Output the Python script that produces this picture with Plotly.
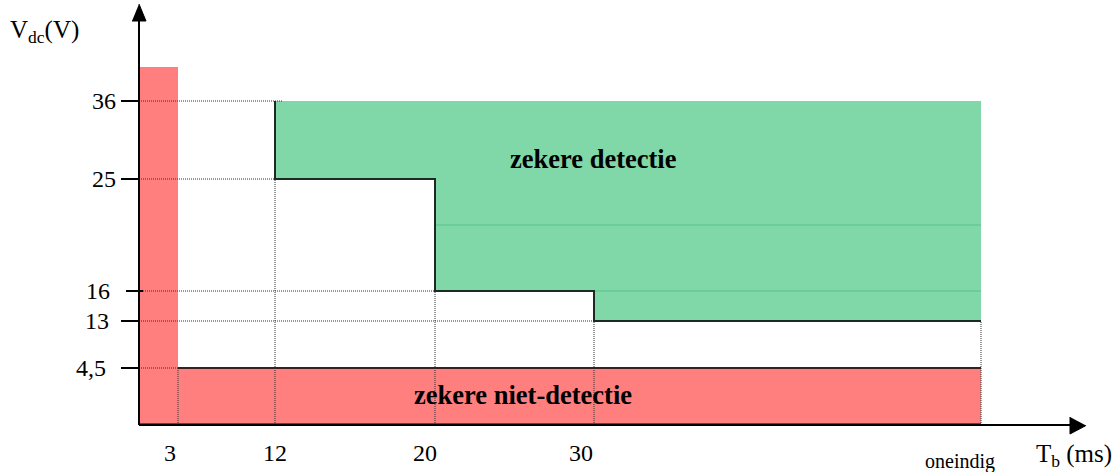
import numpy as np
import plotly.graph_objects as go

# ---------------- data ----------------
x_tick_values = [3, 12, 20, 30]           # T_b (ms)
x_tick_labels = ["3", "12", "20", "30"]
x_inf_label = "oneindig"
y_tick_values = [36, 25, 16, 13, 4.5]     # V_dc (V)
y_tick_labels = ["36", "25", "16", "13", "4,5"]

step_tb = [12, 20, 30]        # start of each detection step
step_v = [25, 16, 13]         # minimum voltage for certain detection
v_max = 36                    # upper limit of detection zone
red_tb = 3                    # below 3 ms: certain non-detection
red_v = 4.5                   # below 4.5 V: certain non-detection
red_top = 40.5                # top of the red column (drawn above 36)
INF = 100                     # stand-in value for "oneindig"

# ---------------- schematic (non-linear) scales ----------------
W, H = 1115, 472
X_KNOTS = [0, 3, 12, 20, 30, INF]
X_PIX = [139, 178, 275, 435, 594, 981]
Y_KNOTS = [0, 4.5, 13, 16, 25, 36, 40.5]
Y_PIX = [425, 368, 321, 291, 179, 101, 67]


def sx(v):
    return float(np.interp(v, X_KNOTS, X_PIX))


def sy(v):
    return H - float(np.interp(v, Y_KNOTS, Y_PIX))


def py(p):  # pixel row -> axis value
    return H - p


fig = go.Figure()

RED = "#FF7F7F"
GREEN = "#80D8A8"


def poly(xs, ys, fill, line_color=None, width=0):
    fig.add_trace(go.Scatter(x=xs, y=ys, mode="lines", fill="toself",
                             fillcolor=fill,
                             line=dict(color=line_color or fill, width=width),
                             hoverinfo="skip", showlegend=False))


def seg(xs, ys, color="black", width=1, dash=None):
    fig.add_trace(go.Scatter(x=xs, y=ys, mode="lines",
                             line=dict(color=color, width=width, dash=dash),
                             hoverinfo="skip", showlegend=False))


# green zone (certain detection)
gx = [sx(step_tb[0]), sx(INF), sx(INF)]
gy = [sy(v_max), sy(v_max), sy(step_v[-1])]
for i in range(len(step_tb) - 1, -1, -1):
    gx += [sx(step_tb[i]), sx(step_tb[i])]
    gy += [sy(step_v[i]), sy(step_v[i - 1]) if i > 0 else sy(v_max)]
poly(gx, gy, GREEN)
# faint seams inside green zone
seg([sx(step_tb[1]), sx(INF)], [py(225), py(225)], color="#56C386", width=1)
seg([sx(step_tb[1]), sx(INF)], [sy(step_v[1]), sy(step_v[1])], color="#56C386", width=1)

# red zones (certain non-detection)
poly([sx(0), sx(red_tb), sx(red_tb), sx(0)], [sy(0), sy(0), sy(red_top), sy(red_top)], RED)
poly([sx(red_tb), sx(INF), sx(INF), sx(red_tb)], [sy(0), sy(0), sy(red_v), sy(red_v)], RED)

# dotted guide lines
dot = dict(color="#333333", width=1, dash="1px,1px")
h_ends = {36: sx(12) + 8, 25: sx(12), 16: sx(20), 13: sx(30), 4.5: sx(red_tb)}
for v in y_tick_values:
    seg([sx(0), h_ends[v]], [sy(v), sy(v)], **dot)
v_starts = {3: red_v, 12: 25, 20: 16, 30: 13}
for t in x_tick_values:
    seg([sx(t), sx(t)], [sy(0), sy(v_starts[t])], **dot)
seg([sx(INF), sx(INF)], [sy(0), sy(13)], **dot)

# red outline
seg([sx(red_tb), sx(INF)], [sy(red_v), sy(red_v)], color="#3a1f1f", width=2)
seg([sx(0), sx(INF)], [sy(0) + 1, sy(0) + 1], color="#A00000", width=1.5)

# step boundary
bx = [sx(step_tb[0])]
by = [sy(v_max)]
for i in range(len(step_tb)):
    bx += [sx(step_tb[i]), sx(step_tb[i + 1]) if i + 1 < len(step_tb) else sx(INF)]
    by += [sy(step_v[i]), sy(step_v[i])]
    if i + 1 < len(step_tb):
        bx += [sx(step_tb[i + 1])]
        by += [sy(step_v[i + 1])]
seg(bx, by, color="#1b2a22", width=2)

# axes with arrows
seg([139, 139], [sy(0), py(20)], color="black", width=2)
poly([132, 146, 139], [py(21), py(21), py(4)], "black", "black", 1)
seg([139, 1071], [sy(0), sy(0)], color="black", width=2)
poly([1070, 1070, 1086], [py(417), py(434), py(425.5)], "black", "black", 1)

# y tick marks
for v in y_tick_values:
    x0 = 126 if v == 16 else 121
    x1 = 143 if v == 16 else 139
    seg([x0, x1], [sy(v), sy(v)], color="black", width=2)

FONT = "'Liberation Serif', 'DejaVu Serif', serif"
ann = []
y_right = {36: 118, 25: 118, 16: 112, 13: 111, 4.5: 108}
for v, lab in zip(y_tick_values, y_tick_labels):
    ann.append(dict(x=y_right[v], y=sy(v), text=lab, xanchor="right", yanchor="middle",
                    font=dict(size=24, family=FONT, color="black")))
x_lab_pos = {3: 170, 12: 275, 20: 425, 30: 581}
for t, lab in zip(x_tick_values, x_tick_labels):
    ann.append(dict(x=x_lab_pos[t], y=py(453), text=lab, xanchor="center", yanchor="middle",
                    font=dict(size=24, family=FONT, color="black")))
ann.append(dict(x=960, y=py(461), text=x_inf_label, xanchor="center", yanchor="middle",
                font=dict(size=20, family=FONT, color="black")))
ann.append(dict(x=1034, y=py(455), text="T<sub>b</sub> (ms)", xanchor="left", yanchor="middle",
                font=dict(size=25, family=FONT, color="black")))
ann.append(dict(x=8, y=py(31), text="V<sub>dc</sub>(V)", xanchor="left", yanchor="middle",
                font=dict(size=25, family=FONT, color="black")))
ann.append(dict(x=593, y=py(159), text="<b>zekere detectie</b>", xanchor="center", yanchor="middle",
                font=dict(size=26.5, family=FONT, color="black")))
ann.append(dict(x=523, y=py(395), text="<b>zekere niet-detectie</b>", xanchor="center",
                yanchor="middle", font=dict(size=26.5, family=FONT, color="black")))
for a in ann:
    a.update(showarrow=False, xref="x", yref="y")

fig.update_layout(
    width=W, height=H, margin=dict(l=0, r=0, t=0, b=0),
    paper_bgcolor="white", plot_bgcolor="white",
    xaxis=dict(range=[0, W], visible=False, fixedrange=True),
    yaxis=dict(range=[0, H], visible=False, fixedrange=True),
    annotations=ann, showlegend=False,
    font=dict(family=FONT),
)

fig.write_html("out.html", config={"displayModeBar": False},
               post_script="document.body.style.margin='0px';document.body.style.overflow='hidden';")
